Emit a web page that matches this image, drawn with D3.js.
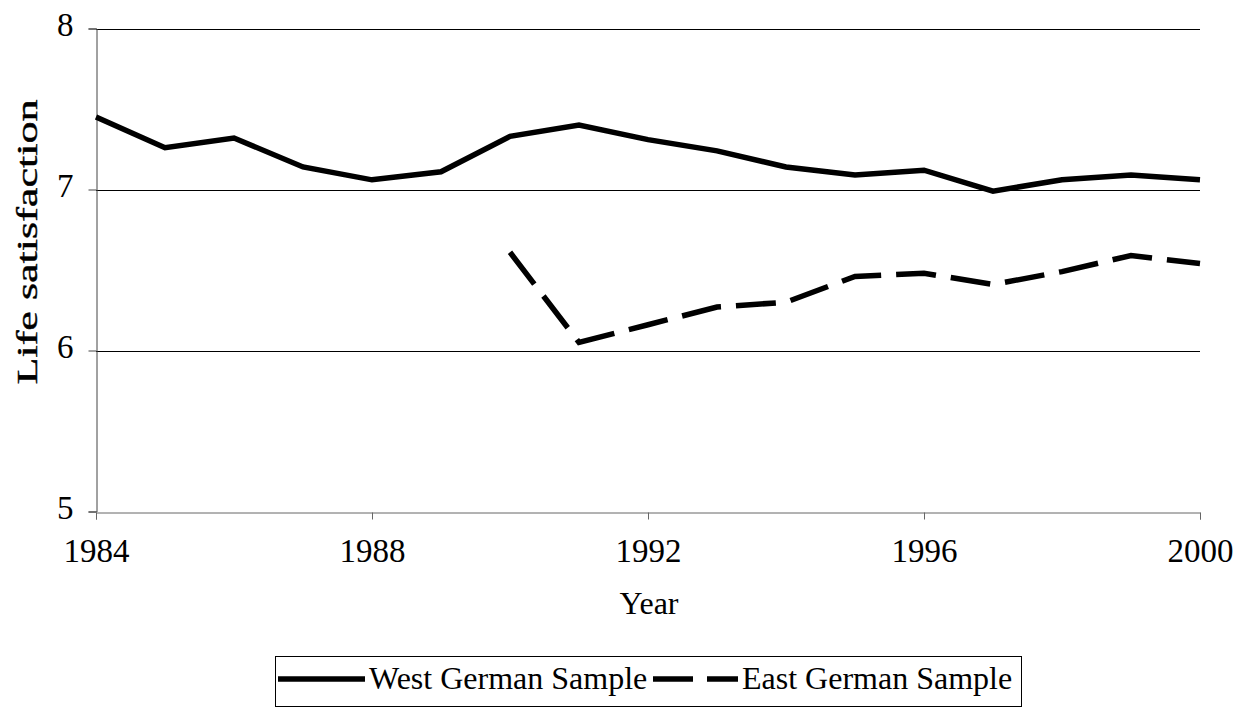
<!DOCTYPE html>
<html>
<head>
<meta charset="utf-8">
<script src="https://cdn.jsdelivr.net/npm/d3@7"></script>
<style>
html,body{margin:0;padding:0;background:#fff;}
svg{display:block;}
text{font-family:"Liberation Serif","Times New Roman",serif;fill:#000;}
</style>
</head>
<body>
<svg id="chart" width="1248" height="707"></svg>
<script>
const westYears = [1984,1985,1986,1987,1988,1989,1990,1991,1992,1993,1994,1995,1996,1997,1998,1999,2000];
const westValues = [7.45,7.26,7.32,7.14,7.06,7.11,7.33,7.40,7.31,7.24,7.14,7.09,7.12,6.99,7.06,7.09,7.06];
const eastYears = [1990,1991,1992,1993,1994,1995,1996,1997,1998,1999,2000];
const eastValues = [6.61,6.05,6.16,6.27,6.30,6.46,6.48,6.41,6.49,6.59,6.54];
const xTicks = [1984,1988,1992,1996,2000];
const yTicks = [5,6,7,8];
const seriesNames = ["West German Sample","East German Sample"];
const xTitle = "Year";
const yTitle = "Life satisfaction";

const svg = d3.select("#chart");
const x = d3.scaleLinear().domain([1984,2000]).range([96,1200]);
const y = d3.scaleLinear().domain([5,8]).range([511.5,28.5]);

// gridlines
svg.append("g").selectAll("line").data(yTicks.filter(d=>d>5)).join("line")
  .attr("x1",x(1984)).attr("x2",x(2000))
  .attr("y1",d=>Math.round(y(d))+0.5).attr("y2",d=>Math.round(y(d))+0.5)
  .attr("stroke","#000").attr("stroke-width",1);

// y axis
const yAxis = svg.append("g").attr("transform",`translate(${x(1984)+0.5},0)`)
  .call(d3.axisLeft(y).tickValues(yTicks).tickSize(8).tickPadding(15).tickFormat(d3.format("d")));
yAxis.select(".domain").attr("stroke","#444");
yAxis.selectAll(".tick line").attr("stroke","#444");
yAxis.selectAll(".tick text").attr("font-size",33).attr("dy","0.22em").attr("font-family","Liberation Serif");

// x axis
const xAxis = svg.append("g").attr("transform",`translate(0,${Math.round(y(5))+0.5})`)
  .call(d3.axisBottom(x).tickValues(xTicks).tickSize(7).tickPadding(19).tickFormat(d3.format("d")));
xAxis.select(".domain").attr("stroke","#666");
xAxis.selectAll(".tick line").attr("stroke","#666");
xAxis.selectAll(".tick text").attr("font-size",33).attr("font-family","Liberation Serif");

// lines
const line = d3.line().x(d=>x(d[0])).y(d=>y(d[1]));
svg.append("path").datum(westYears.map((d,i)=>[d,westValues[i]]))
  .attr("d",line).attr("fill","none").attr("stroke","#000").attr("stroke-width",5.5)
  .attr("stroke-linejoin","miter");
svg.append("path").datum(eastYears.map((d,i)=>[d,eastValues[i]]))
  .attr("d",line).attr("fill","none").attr("stroke","#000").attr("stroke-width",5.5)
  .attr("stroke-dasharray","40,15");

// axis titles
svg.append("text").attr("x",649).attr("y",614).attr("text-anchor","middle")
  .attr("font-size",32).text(xTitle);
svg.append("text").attr("transform","translate(37,242) rotate(-90)")
  .attr("text-anchor","middle").attr("font-size",30)
  .attr("textLength",285).attr("lengthAdjust","spacingAndGlyphs")
  .attr("stroke","#000").attr("stroke-width",0.4).text(yTitle);

// legend
const lg = svg.append("g");
lg.append("rect").attr("x",275.5).attr("y",656.5).attr("width",746).attr("height",50)
  .attr("fill","none").attr("stroke","#000").attr("stroke-width",1);
lg.append("line").attr("x1",278).attr("x2",365).attr("y1",679).attr("y2",679)
  .attr("stroke","#000").attr("stroke-width",5.5);
lg.append("text").attr("x",369).attr("y",689).attr("font-size",32).text(seriesNames[0]);
lg.append("line").attr("x1",653).attr("x2",738).attr("y1",679).attr("y2",679)
  .attr("stroke","#000").attr("stroke-width",5.5).attr("stroke-dasharray","40,14");
lg.append("text").attr("x",742).attr("y",689).attr("font-size",32).text(seriesNames[1]);
</script>
</body>
</html>
